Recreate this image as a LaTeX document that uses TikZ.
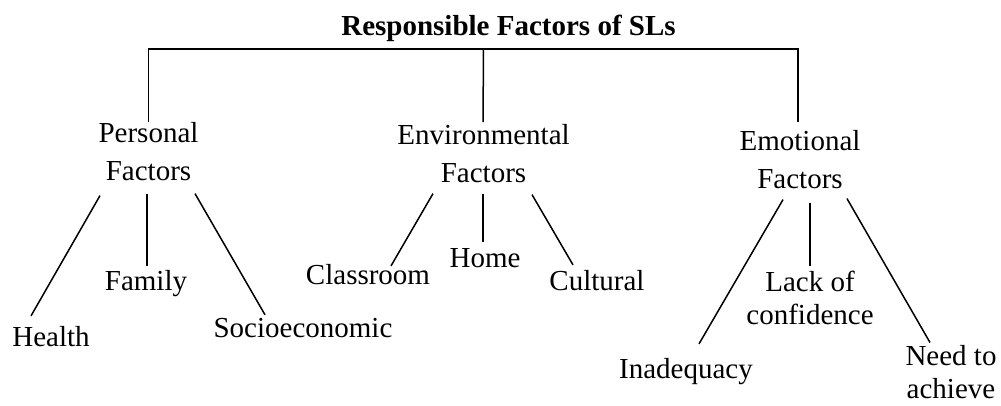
\documentclass[tikz,border=0pt]{standalone}
\usepackage{fontspec}
\setmainfont{Liberation Serif}
\usetikzlibrary{calc}
\begin{document}
\begin{tikzpicture}[x=1pt,y=-1pt,
  every node/.style={inner sep=0pt, outer sep=0pt},
  cat/.style={align=center, anchor=north, font=\fontsize{29}{38}\selectfont},
  leaf/.style={anchor=base, font=\fontsize{29}{34}\selectfont},
  leaf2/.style={align=center, anchor=north, font=\fontsize{29}{33}\selectfont},
  link/.style={line width=1.5pt}]
\useasboundingbox (0,0) rectangle (1001,405);

% heading
\node[anchor=base, font=\fontsize{29}{34}\selectfont\bfseries] (title) at (508.5,35) {Responsible Factors of SLs};

% three groups of factors
\node[cat] (pf) at (148.5,122.2) {Personal\\Factors};
\node[cat] (ef) at (483.5,124.2) {Environmental\\Factors};
\node[cat] (mf) at (800,130.2) {Emotional\\Factors};

% individual factors
\node[leaf] (health) at (51,346) {Health};
\node[leaf] (family) at (146,290) {Family};
\node[leaf] (socio) at (303,337) {Socioeconomic};
\node[leaf] (classroom) at (368,284) {Classroom};
\node[leaf] (home) at (485,267) {Home};
\node[leaf] (cultural) at (597,290) {Cultural};
\node[leaf] (inadequacy) at (686,378) {Inadequacy};
\node[leaf2] (lack) at (810,271.2) {Lack of\\confidence};
\node[leaf2] (need) at (951,345.5) {Need to\\achieve};

% bracket from the heading to the groups
\coordinate (bar) at ($(title.south)+(0,8)$);
\draw[link] (pf.north) |- (bar) -| ($(mf.north)+(-2,-8)$);
\draw[link] ($(ef.north)+(-0.5,-2)$) -- (ef.north |- bar);

% personal factors
\draw[link] ($(pf.south)+(-48.5,15)$) -- ($(health.north)+(-20,-10)$);
\draw[link] ($(pf.south)+(-1.5,13)$) -- ($(family.north)+(1,-4)$);
\draw[link] ($(pf.south)+(46.5,13)$) -- ($(socio.north)+(-38,-3)$);

% environmental factors
\draw[link] ($(ef.south)+(-50.5,11)$) -- ($(classroom.north)+(23,2)$);
\draw[link] ($(ef.south)+(-0.5,11)$) -- ($(home.north)+(-2,-6)$);
\draw[link] ($(ef.south)+(48.5,12)$) -- ($(cultural.north)+(-24,-5)$);

% emotional factors
\draw[link] ($(mf.south)+(-17,11)$) -- ($(inadequacy.north)+(13,-14)$);
\draw[link] ($(mf.south)+(10,14)$) -- ($(lack.north)+(0,-5)$);
\draw[link] ($(mf.south)+(47,10)$) -- ($(need.north)+(-21,-3)$);
\end{tikzpicture}
\end{document}
